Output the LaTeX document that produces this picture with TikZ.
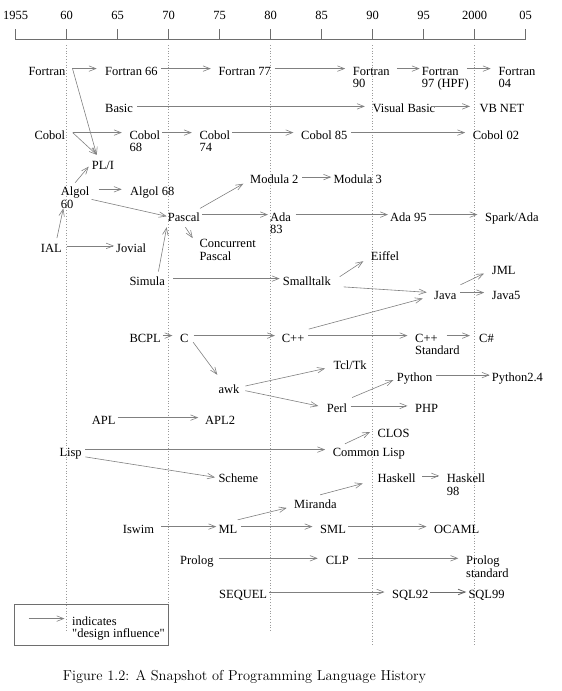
\documentclass[tikz,border=0pt]{standalone}
\usepackage{fontspec}
\usepackage{tikz}
\usetikzlibrary{arrows.meta}
\newfontfamily\timesfam{Liberation Serif}
\newcommand\langfont{\timesfam\fontsize{12.5}{12.8}\selectfont}
\newcommand\twoline[2]{\begin{tabular}[t]{@{}l@{}}#1\\#2\end{tabular}}
\definecolor{arrowgray}{HTML}{808080}
\definecolor{axisgray}{HTML}{6E6E6E}
\definecolor{guidegray}{HTML}{9A9A9A}

\begin{document}
\begin{tikzpicture}[
    x=1pt, y=-1pt,
    lang/.style={anchor=base west, inner xsep=2pt, inner ysep=0pt,
                 text height=12.8pt, text depth=0pt, font=\langfont},
    infl/.style={draw=arrowgray, line width=0.6pt,
                 -{Straight Barb[length=7pt,width=5.5pt]},
                 shorten <=1.5pt, shorten >=5.5pt},
    axisline/.style={draw=axisgray, line width=0.7pt},
    guide/.style={draw=guidegray, line width=0.6pt, dash pattern=on 0.6pt off 2.2pt},
    yearlab/.style={anchor=base, inner sep=0pt, font=\langfont},
  ]
  \useasboundingbox (0,0) rectangle (562,691);

  % Zeitachse
  \draw[axisline] (15.5,39.6) -- (525.5,39.6);
  \foreach \yr/\lab in {1955/1955,1960/60,1965/65,1970/70,1975/75,1980/80,
                        1985/85,1990/90,1995/95,2000/2000,2005/05} {
    \draw[axisline] ({15.5+(\yr-1955)*10.2},39.6) -- ++(0,-10.8);
    \node[yearlab] (y\yr) at ({15.5+(\yr-1955)*10.2},19.3) {\lab};
  }
  \foreach \yr/\yend in {1960/632,1970/604,1980/632,1990/646,2000/646}
    \draw[guide] ({15.5+(\yr-1955)*10.2},45) -- ({15.5+(\yr-1955)*10.2},\yend);

  % Sprachen
  \node[lang] (fortran)    at (26.3,75)    {Fortran};
  \node[lang] (f66)        at (103,75)     {Fortran 66};
  \node[lang] (f77)        at (216.3,75)   {Fortran 77};
  \node[lang] (f90)        at (350.7,75)   {\twoline{Fortran}{90}};
  \node[lang] (f97)        at (419.7,75)   {\twoline{Fortran}{97 (HPF)}};
  \node[lang] (f04)        at (496.3,75)   {\twoline{Fortran}{04}};
  \node[lang] (basic)      at (103,112.8)  {Basic};
  \node[lang] (vbasic)     at (370.3,112.8) {Visual Basic};
  \node[lang] (vbnet)      at (477.3,112.8) {VB NET};
  \node[lang] (cobol)      at (32.3,139)   {Cobol};
  \node[lang] (cobol68)    at (127.3,139)  {\twoline{Cobol}{68}};
  \node[lang] (cobol74)    at (197.3,139)  {\twoline{Cobol}{74}};
  \node[lang] (cobol85)    at (299,139)    {Cobol 85};
  \node[lang] (cobol02)    at (470.7,139)  {Cobol 02};
  \node[lang] (pli)        at (89.7,169)   {PL/I};
  \node[lang] (algol60)    at (58.7,195.7) {\twoline{Algol}{60}};
  \node[lang] (algol68)    at (128,195.7)  {Algol 68};
  \node[lang] (modula2)    at (248,183.5)  {Modula 2};
  \node[lang] (modula3)    at (331.3,183.5) {Modula 3};
  \node[lang] (pascal)     at (165.7,221)  {Pascal};
  \node[lang] (ada83)      at (268,221)    {\twoline{Ada}{83}};
  \node[lang] (ada95)      at (388,221)    {Ada 95};
  \node[lang] (spark)      at (483,221)    {Spark/Ada};
  \node[lang] (concpascal) at (197.3,247.3) {\twoline{Concurrent}{Pascal}};
  \node[lang] (ial)        at (38.7,252.3) {IAL};
  \node[lang] (jovial)     at (114,252.3)  {Jovial};
  \node[lang] (eiffel)     at (368.7,260.7) {Eiffel};
  \node[lang] (jml)        at (489.7,274)  {JML};
  \node[lang] (simula)     at (127.3,285)  {Simula};
  \node[lang] (smalltalk)  at (280.7,285)  {Smalltalk};
  \node[lang] (java)       at (432,299)    {Java};
  \node[lang] (java5)      at (489.7,299)  {Java5};
  \node[lang] (bcpl)       at (127.3,342)  {BCPL};
  \node[lang] (c)          at (178,342)    {C};
  \node[lang] (cpp)        at (279.7,342)  {C++};
  \node[lang] (cppstd)     at (413,342)    {\twoline{C++}{Standard}};
  \node[lang] (csharp)     at (477,342)    {C\#};
  \node[lang] (tcltk)      at (331.3,369)  {Tcl/Tk};
  \node[lang] (python)     at (394.7,381.5) {Python};
  \node[lang] (python24)   at (489.7,381.5) {Python2.4};
  \node[lang] (awk)        at (216.3,393.5) {awk};
  \node[lang] (perl)       at (324.7,412.3) {Perl};
  \node[lang] (php)        at (413,412.3)  {PHP};
  \node[lang] (apl)        at (89.7,424)   {APL};
  \node[lang] (apl2)       at (203,424)    {APL2};
  \node[lang] (clos)       at (375.3,437.5) {CLOS};
  \node[lang] (lisp)       at (57.3,456)   {Lisp};
  \node[lang] (commonlisp) at (330.7,456)  {Common Lisp};
  \node[lang] (scheme)     at (216.3,482.3) {Scheme};
  \node[lang] (haskell)    at (375.3,482.3) {Haskell};
  \node[lang] (haskell98)  at (444.7,482.3) {\twoline{Haskell}{98}};
  \node[lang] (miranda)    at (292,508.3)  {Miranda};
  \node[lang] (iswim)      at (120.7,533)  {Iswim};
  \node[lang] (ml)         at (216.3,533)  {ML};
  \node[lang] (sml)        at (318,533)    {SML};
  \node[lang] (ocaml)      at (432,533)    {OCAML};
  \node[lang] (prolog)     at (178,564.7)  {Prolog};
  \node[lang] (clp)        at (323.7,564.7) {CLP};
  \node[lang] (prologstd)  at (464,564.7)  {\twoline{Prolog}{standard}};
  \node[lang] (sequel)     at (217,598.4)  {SEQUEL};
  \node[lang] (sql92)      at (390,598.4)  {SQL92};
  \node[lang] (sql99)      at (466.3,598.4) {SQL99};

  % Einfluesse: Fortran, Basic, Cobol
  \draw[infl, shorten <=5pt, shorten >=6.3pt] (fortran) -- (f66);
  \draw[infl] (f66) -- (f77);
  \draw[infl] (f77) -- (f90);
  \draw[infl, shorten <=5pt, shorten >=0pt] (f90) -- (f97);
  \draw[infl, shorten <=-4pt, shorten >=5.6pt] (f97) -- (f04);
  \draw[infl, shorten <=0pt, shorten >=0pt] ([xshift=5pt]fortran.east) -- ([shift={(7,-1.2)}]pli.north west);
  \draw[infl, shorten <=2pt] (basic) -- (vbasic);
  \draw[infl, shorten <=-4.5pt, shorten >=7.3pt] (vbasic) -- (vbnet);
  \draw[infl, shorten <=5.4pt] (cobol) -- (cobol68);
  \draw[infl, shorten <=0pt, shorten >=0pt] ([xshift=5.4pt]cobol.east) -- ([shift={(7,-1.2)}]pli.north west);
  \draw[infl, shorten <=0pt] (cobol68) -- (cobol74);
  \draw[infl, shorten <=0pt] (cobol74) -- (cobol85);
  \draw[infl] (cobol85) -- (cobol02);

  % Algol, Pascal, Simula
  \draw[infl, shorten <=0pt, shorten >=0pt] (algol60.north) -- ([shift={(-1,4)}]pli.west);
  \draw[infl, shorten <=7pt, shorten >=6.3pt] (algol60) -- (algol68);
  \draw[infl, shorten <=0pt, shorten >=0pt] ([shift={(0,3.5)}]algol60.south east) -- ([shift={(1,1.7)}]pascal.west);
  \draw[infl, shorten <=0pt, shorten >=0pt] ([shift={(5.6,-1.2)}]ial.north) -- ([shift={(4.6,12.6)}]algol60.south west);
  \draw[infl, shorten <=3pt, shorten >=0pt] (ial) -- (jovial);
  \draw[infl, shorten <=0pt, shorten >=0pt] ([shift={(-2,0.4)}]pascal.north east) -- ([shift={(-4.7,0)}]modula2.south west);
  \draw[infl, shorten >=0pt] (modula2) -- (modula3);
  \draw[infl, shorten <=0pt, shorten >=0pt] (pascal) -- (ada83);
  \draw[infl, shorten <=0pt, shorten >=0pt] ([shift={(1.5,6)}]pascal.south) -- ([shift={(-4.6,3.8)}]concpascal.north west);
  \draw[infl, shorten <=2.5pt, shorten >=0pt] (ada83) -- (ada95);
  \draw[infl, shorten <=0pt] (ada95) -- (spark);
  \draw[infl, shorten <=0pt, shorten >=0pt] ([shift={(-8.7,-0.5)}]simula.north east) -- ([shift={(1,6)}]pascal.south west);
  \draw[infl, shorten <=6pt, shorten >=1pt] (simula) -- (smalltalk);

  % Smalltalk, C, Java
  \draw[infl, shorten <=0pt, shorten >=0pt] ([shift={(6.7,-1.9)}]smalltalk.east) -- ([shift={(-5.4,0.3)}]eiffel.south west);
  \draw[infl, shorten <=0pt, shorten >=0pt] ([shift={(10.7,1.7)}]smalltalk.south east) -- ([shift={(-5.3,-0.3)}]java.west);
  \draw[infl, shorten <=0pt, shorten >=0pt] ([shift={(2.2,0.1)}]cpp.north east) -- ([shift={(-9.3,-0.7)}]java.south west);
  \draw[infl, shorten <=0pt, shorten >=0pt] ([shift={(1.8,-1.2)}]java.north east) -- ([shift={(-5.7,-0.7)}]jml.south west);
  \draw[infl] (java) -- (java5);
  \draw[infl, shorten <=0pt] (bcpl) -- (c);
  \draw[infl, shorten <=3pt, shorten >=4.7pt] (c) -- (cpp);
  \draw[infl, shorten <=0pt, shorten >=0pt] ([shift={(2.4,0)}]c.south east) -- ([shift={(1,-5.7)}]awk.north west);
  \draw[infl] (cpp) -- (cppstd);
  \draw[infl, shorten <=0pt, shorten >=7pt] ([xshift=33.7pt]cppstd.west) -- (csharp.west);

  % awk, Perl, Python
  \draw[infl, shorten <=0pt, shorten >=0pt] ([shift={(3.9,-1.1)}]awk.east) -- ([shift={(-6.3,-0.7)}]tcltk.south west);
  \draw[infl, shorten <=0pt, shorten >=0pt] ([shift={(3.9,3.6)}]awk.east) -- ([shift={(-6.4,0.1)}]perl.west);
  \draw[infl, shorten <=0pt, shorten >=0pt] ([shift={(2.9,-1.8)}]perl.north east) -- ([shift={(-1.4,-1.5)}]python.south west);
  \draw[infl] (perl) -- (php);
  \draw[infl, shorten >=0pt] (python) -- (python24);
  \draw[infl, shorten <=0pt, shorten >=4.7pt] (apl) -- (apl2);

  % Lisp, ML, Prolog, SQL
  \draw[infl] (lisp) -- (commonlisp);
  \draw[infl, shorten <=0pt, shorten >=0pt] ([shift={(14.3,0.8)}]commonlisp.north west) -- ([shift={(-5.3,0.9)}]clos.west);
  \draw[infl, shorten <=0pt, shorten >=0pt] ([shift={(1.5,0.7)}]lisp.south east) -- ([shift={(-1.3,1.4)}]scheme.west);
  \draw[infl, shorten <=4.7pt, shorten >=0pt] (iswim) -- (ml);
  \draw[infl, shorten <=0pt, shorten >=0pt] ([shift={(-1.7,-0.2)}]ml.north east) -- ([shift={(-5.3,-0.6)}]miranda.south west);
  \draw[infl, shorten <=0pt, shorten >=0pt] ([shift={(4.8,-0.5)}]miranda.north) -- ([shift={(-12.6,1)}]haskell.south west);
  \draw[infl, shorten <=4.5pt] (haskell) -- (haskell98);
  \draw[infl] (ml) -- (sml);
  \draw[infl, shorten <=0pt] (sml) -- (ocaml);
  \draw[infl, shorten <=3pt, shorten >=6pt] (prolog) -- (clp);
  \draw[infl, shorten <=6.7pt, shorten >=5.7pt] (clp) -- (prologstd);
  \draw[infl, shorten <=0pt] (sequel) -- (sql92);
  \draw[infl, draw=axisgray, line width=0.9pt, shorten <=-1pt, shorten >=0pt] (sql92) -- (sql99);

  % Legende
  \draw[axisline, line width=0.6pt] (14.4,604.5) rectangle (168.2,645.6);
  \coordinate (legfrom) at (27,618.6);
  \node[lang] (legend) at (70,625) {\twoline{indicates}{"design influence"}};
  \draw[infl] (legfrom) -- (legend.west);

  % Bildunterschrift
  \node[font=\fontsize{14.4}{16}\selectfont] (caption) at (244.5,677)
    {Figure 1.2: A Snapshot of Programming Language History};
\end{tikzpicture}
\end{document}
